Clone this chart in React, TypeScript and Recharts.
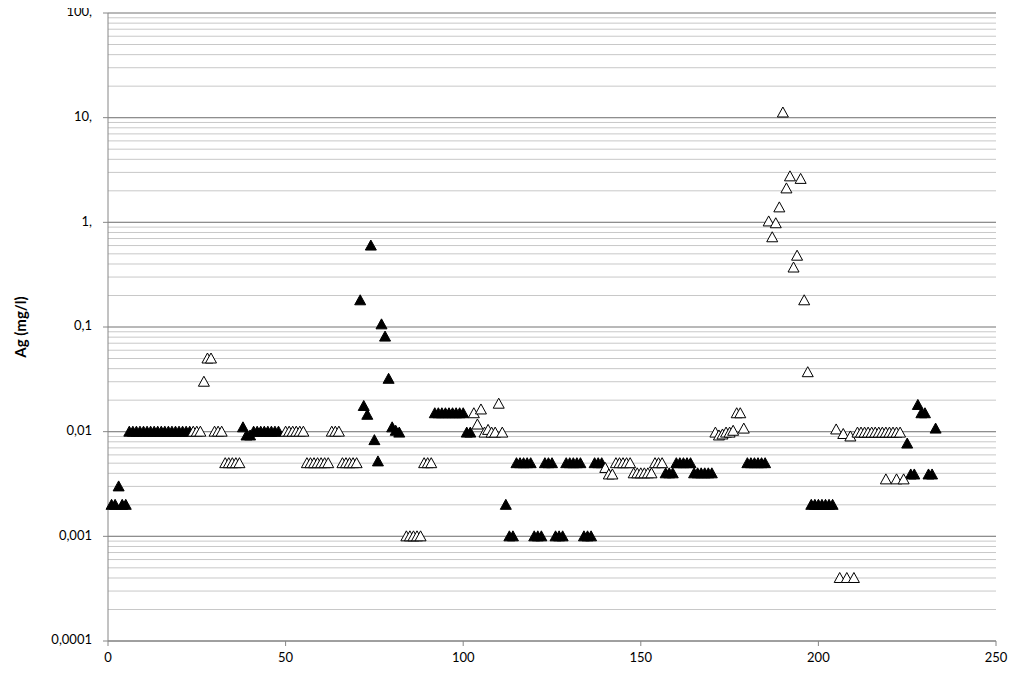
import { ScatterChart, Scatter, XAxis, YAxis, CartesianGrid, ReferenceLine } from "recharts";

// filled triangles: [sample, Ag mg/l]
const filledPoints: [number, number][] = [
  [1, 0.002], [2, 0.002], [3, 0.003], [4, 0.002], [5, 0.002],
  [6, 0.01], [7, 0.01], [8, 0.01], [9, 0.01], [10, 0.01], [11, 0.01], [12, 0.01], [13, 0.01], [14, 0.01],
  [15, 0.01], [16, 0.01], [17, 0.01], [18, 0.01], [19, 0.01], [20, 0.01], [21, 0.01], [22, 0.01], [23, 0.01],
  [38, 0.011], [39, 0.0092], [40, 0.0092],
  [41, 0.01], [42, 0.01], [43, 0.01], [44, 0.01], [45, 0.01], [46, 0.01], [47, 0.01], [48, 0.01],
  [71, 0.18], [72, 0.0176], [73, 0.0145], [74, 0.6], [75, 0.0083], [76, 0.0052], [77, 0.106], [78, 0.081],
  [79, 0.032], [80, 0.011], [81, 0.0102], [82, 0.0098],
  [92, 0.015], [93, 0.015], [94, 0.015], [95, 0.015], [96, 0.015], [97, 0.015], [98, 0.015], [99, 0.015], [100, 0.015],
  [101, 0.0098], [102, 0.0098],
  [112, 0.002], [113, 0.001], [114, 0.001],
  [115, 0.005], [116, 0.005], [117, 0.005], [118, 0.005], [119, 0.005],
  [120, 0.001], [121, 0.001], [122, 0.001],
  [123, 0.005], [124, 0.005], [125, 0.005],
  [126, 0.001], [127, 0.001], [128, 0.001],
  [129, 0.005], [130, 0.005], [131, 0.005], [132, 0.005], [133, 0.005],
  [134, 0.001], [135, 0.001], [136, 0.001],
  [137, 0.005], [138, 0.005], [139, 0.005],
  [157, 0.004], [158, 0.004], [159, 0.004],
  [160, 0.005], [161, 0.005], [162, 0.005], [163, 0.005], [164, 0.005],
  [165, 0.004], [166, 0.004], [167, 0.004], [168, 0.004], [169, 0.004], [170, 0.004],
  [180, 0.005], [181, 0.005], [182, 0.005], [183, 0.005], [184, 0.005], [185, 0.005],
  [198, 0.002], [199, 0.002], [200, 0.002], [201, 0.002], [202, 0.002], [203, 0.002], [204, 0.002],
  [225, 0.0077], [226, 0.0039], [227, 0.0039], [228, 0.018], [229, 0.015], [230, 0.015],
  [231, 0.0039], [232, 0.0039], [233, 0.0107],
];

// open triangles
const openPoints: [number, number][] = [
  [24, 0.01], [25, 0.01], [26, 0.01], [27, 0.03], [28, 0.05], [29, 0.05],
  [30, 0.01], [31, 0.01], [32, 0.01],
  [33, 0.005], [34, 0.005], [35, 0.005], [36, 0.005], [37, 0.005],
  [50, 0.01], [51, 0.01], [52, 0.01], [53, 0.01], [54, 0.01], [55, 0.01],
  [56, 0.005], [57, 0.005], [58, 0.005], [59, 0.005], [60, 0.005], [61, 0.005], [62, 0.005],
  [63, 0.01], [64, 0.01], [65, 0.01],
  [66, 0.005], [67, 0.005], [68, 0.005], [69, 0.005], [70, 0.005],
  [84, 0.001], [85, 0.001], [86, 0.001], [87, 0.001], [88, 0.001],
  [89, 0.005], [90, 0.005], [91, 0.005],
  [103, 0.015], [104, 0.0117], [105, 0.0163], [106, 0.0098], [107, 0.0104], [108, 0.0098],
  [109, 0.0098], [110, 0.0185], [111, 0.0098],
  [140, 0.0045], [141, 0.0039], [142, 0.0039],
  [143, 0.005], [144, 0.005], [145, 0.005], [146, 0.005], [147, 0.005],
  [148, 0.004], [149, 0.004], [150, 0.004], [151, 0.004], [152, 0.004], [153, 0.004],
  [154, 0.005], [155, 0.005], [156, 0.005],
  [171, 0.0098], [172, 0.0092], [173, 0.0094], [174, 0.0098], [175, 0.0098], [176, 0.0102],
  [177, 0.015], [178, 0.015], [179, 0.0107],
  [186, 1.02], [187, 0.72], [188, 0.98], [189, 1.39], [190, 11.2], [191, 2.11], [192, 2.75],
  [193, 0.37], [194, 0.48], [195, 2.6], [196, 0.18], [197, 0.037],
  [205, 0.0105], [206, 0.0004], [207, 0.0095], [208, 0.0004], [209, 0.009], [210, 0.0004],
  [211, 0.0098], [212, 0.0098], [213, 0.0098], [214, 0.0098], [215, 0.0098], [216, 0.0098], [217, 0.0098],
  [218, 0.0098], [219, 0.0098], [220, 0.0098], [221, 0.0098], [222, 0.0098], [223, 0.0098],
  [219, 0.0035], [222, 0.0035], [224, 0.0035],
];

const xTicks = [0, 50, 100, 150, 200, 250];

// every log gridline between 0.0001 and 100
const yTicks = [
  0.0001, 0.0002, 0.0003, 0.0004, 0.0005, 0.0006, 0.0007, 0.0008, 0.0009,
  0.001, 0.002, 0.003, 0.004, 0.005, 0.006, 0.007, 0.008, 0.009,
  0.01, 0.02, 0.03, 0.04, 0.05, 0.06, 0.07, 0.08, 0.09,
  0.1, 0.2, 0.3, 0.4, 0.5, 0.6, 0.7, 0.8, 0.9,
  1, 2, 3, 4, 5, 6, 7, 8, 9,
  10, 20, 30, 40, 50, 60, 70, 80, 90,
  100,
];

const decades = [0.0001, 0.001, 0.01, 0.1, 1, 10, 100];
const decadeLabels = ["0,0001", "0,001", "0,01", "0,1", "1,", "10,", "100,"];

const font = "Lato, 'Liberation Sans', sans-serif";

const YTick = (props: any) => {
  const { x, y, payload } = props;
  const i = decades.indexOf(payload.value);
  if (i < 0) return null;
  return (
    <g>
      <line x1={x + 11} x2={x + 16} y1={y} y2={y} stroke="#868686" />
      <text x={x} y={y} textAnchor="end" dominantBaseline="middle" fontSize={13} fontFamily={font} fill="#000">
        {decadeLabels[i]}
      </text>
    </g>
  );
};

const Triangle = (props: any) => {
  const { cx, cy, filled } = props;
  if (cx == null || cy == null) return null;
  const pts = `${cx},${cy - 5.5} ${cx - 5.5},${cy + 4.5} ${cx + 5.5},${cy + 4.5}`;
  return <polygon points={pts} fill={filled ? "#000" : "#fff"} stroke="#000" strokeWidth={1} />;
};

const filledData = filledPoints.map(([x, y]) => ({ x, y }));
const openData = openPoints.map(([x, y]) => ({ x, y }));

export default function App() {
  return (
    <div style={{ width: 1022, height: 672, marginTop: -8, marginLeft: -8 }}>
      <ScatterChart width={1022} height={672} margin={{ top: 13, right: 26, left: 8, bottom: 0 }}>
        <CartesianGrid vertical={false} stroke="#c8c8c8" />
        {decades.map((d) => (
          <ReferenceLine key={d} y={d} stroke="#8e8e8e" strokeWidth={1.2} />
        ))}
        <XAxis
          type="number"
          dataKey="x"
          domain={[0, 250]}
          ticks={xTicks}
          tickSize={5}
          tickMargin={7}
          stroke="#868686"
          height={31}
          tick={{ fontSize: 13, fontFamily: font, fill: "#000" }}
        />
        <YAxis
          type="number"
          dataKey="y"
          scale="log"
          domain={[0.0001, 100]}
          allowDataOverflow
          ticks={yTicks}
          interval={0}
          width={100}
          tickSize={5}
          tickMargin={11}
          tickLine={false}
          stroke="#868686"
          tick={<YTick />}
          label={{
            content: (p: any) => {
              const vb = p.viewBox || { x: 8, y: 13, width: 100, height: 628 };
              const cx = vb.x + 14;
              const cy = vb.y + vb.height / 2;
              return (
                <text
                  x={cx}
                  y={cy}
                  transform={`rotate(-90 ${cx} ${cy})`}
                  textAnchor="middle"
                  dominantBaseline="middle"
                  fontSize={15}
                  fontWeight="bold"
                  fontFamily={font}
                  fill="#000"
                >
                  Ag (mg/l)
                </text>
              );
            },
          }}
        />
        <Scatter data={filledData} isAnimationActive={false} shape={(p: any) => <Triangle {...p} filled />} />
        <Scatter data={openData} isAnimationActive={false} shape={(p: any) => <Triangle {...p} filled={false} />} />
      </ScatterChart>
    </div>
  );
}
